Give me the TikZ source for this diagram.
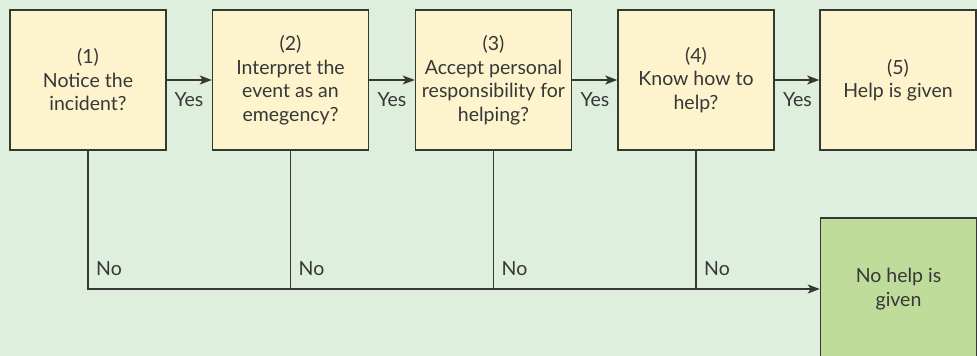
\documentclass[tikz,border=0pt]{standalone}
\usepackage{fontspec}
\setmainfont{Lato}
\usetikzlibrary{arrows.meta}
\definecolor{bg}{RGB}{222,239,221}
\definecolor{boxfill}{RGB}{253,244,205}
\definecolor{greenfill}{RGB}{191,220,155}
\definecolor{ink}{RGB}{55,55,55}
\begin{document}
\begin{tikzpicture}[x=1pt,y=-1pt,
  stepbox/.style={draw=ink, line width=1.5pt, fill=boxfill, minimum width=156pt, minimum height=140pt, inner sep=0pt, align=center, font=\fontsize{19.5}{23.5}\selectfont, text=ink},
  lbl/.style={font=\fontsize{19.5}{23}\selectfont, text=ink, inner sep=0pt},
  conn/.style={draw=ink, line width=1.5pt},
  arr/.style={conn, -{Stealth[length=12pt, width=9pt, inset=3pt]}}]
\fill[bg] (0,0) rectangle (977,356);
\useasboundingbox (0,0) rectangle (977,356);
\clip (0,0) rectangle (977,356);

\node[stepbox] (b1) at (88,80) {(1)\\Notice the\\incident?};
\node[stepbox] (b2) at (290.5,80) {(2)\\Interpret the\\event as an\\emegency?};
\node[stepbox] (b3) at (493.5,80) {(3)\\Accept personal\\responsibility for\\helping?};
\node[stepbox] (b4) at (696,80) {(4)\\Know how to\\help?};
\node[stepbox] (b5) at (898,80) {(5)\\Help is given};
\node[stepbox, fill=greenfill, minimum height=142pt] (nh) at (898.5,289) {No help is\\given};

\draw[arr] (b1) -- (b2);
\draw[arr] (b2) -- (b3);
\draw[arr] (b3) -- (b4);
\draw[arr] (b4) -- (b5);

\node[lbl, anchor=base] (y1) at (189,106) {Yes};
\node[lbl, anchor=base] (y2) at (392,106) {Yes};
\node[lbl, anchor=base] (y3) at (595,106) {Yes};
\node[lbl, anchor=base] (y4) at (797.5,106) {Yes};

\draw[arr] (b1.south) |- (nh.west);
\draw[conn] (b2.south) -- (b2.south |- nh.west);
\draw[conn] (b3.south) -- (b3.south |- nh.west);
\draw[conn] (b4.south) -- (b4.south |- nh.west);

\node[lbl, anchor=base west] (n1) at (96,275) {No};
\node[lbl, anchor=base west] (n2) at (298.5,275) {No};
\node[lbl, anchor=base west] (n3) at (501.5,275) {No};
\node[lbl, anchor=base west] (n4) at (704,275) {No};
\end{tikzpicture}
\end{document}
